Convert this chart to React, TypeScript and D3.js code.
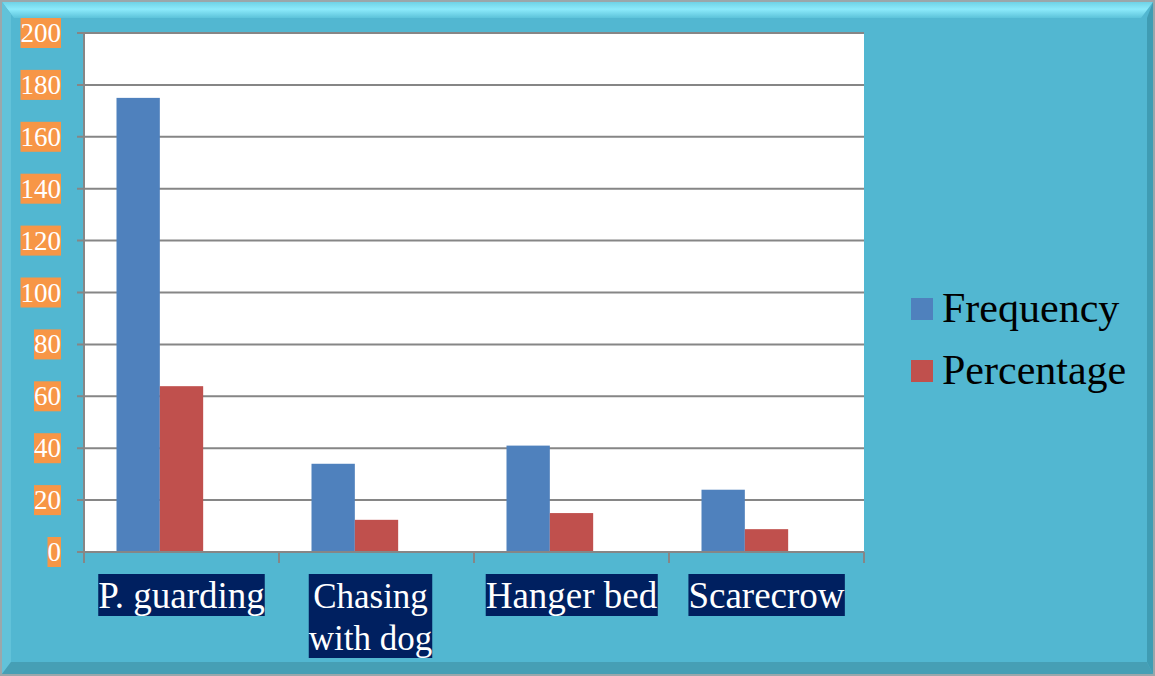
import React, { useEffect, useRef } from 'react';
import * as d3 from 'd3';

const categories = ['P. guarding', 'Chasing with dog', 'Hanger bed', 'Scarecrow'];
const categoryLines = [['P. guarding'], ['Chasing', 'with dog'], ['Hanger bed'], ['Scarecrow']];
const series = ['Frequency', 'Percentage'];
const frequency = [175, 34, 41, 24];
const percentage = [63.9, 12.4, 15.0, 8.8];
const yTicks = [0, 20, 40, 60, 80, 100, 120, 140, 160, 180, 200];

const W = 1155;
const H = 676;
const PLOT = { left: 84, right: 864, top: 33, bottom: 552 };
const COLORS = ['#4F81BD', '#C0504D'];
const FONT = '"Liberation Serif", "Times New Roman", serif';

const App: React.FC = () => {
  const svgRef = useRef<SVGSVGElement>(null);

  useEffect(() => {
    const svg = d3.select(svgRef.current);
    svg.selectAll('*').remove();

    const defs = svg.append('defs');
    const topGrad = defs.append('linearGradient').attr('id', 'topBevel').attr('x1', 0).attr('y1', 0).attr('x2', 0).attr('y2', 1);
    topGrad.append('stop').attr('offset', '0%').attr('stop-color', '#6fd2e6');
    topGrad.append('stop').attr('offset', '45%').attr('stop-color', '#8ceafb');
    topGrad.append('stop').attr('offset', '100%').attr('stop-color', '#5cc3da');

    // frame
    svg.append('rect').attr('width', W).attr('height', H).attr('fill', '#9aa7ab');
    const o = 2, b = 12;
    const face = '#52B7D1';
    svg.append('rect').attr('x', o).attr('y', o).attr('width', W - 2 * o).attr('height', H - 2 * o).attr('fill', face);
    svg.append('polygon')
      .attr('points', `${o},${o} ${W - o},${o} ${W - o - b},${o + b + 4} ${o + b},${o + b + 4}`)
      .attr('fill', 'url(#topBevel)');
    svg.append('polygon')
      .attr('points', `${o},${o} ${o + 9},${o + b} ${o + 9},${H - o - b} ${o},${H - o}`)
      .attr('fill', '#62c2d9');
    svg.append('polygon')
      .attr('points', `${W - o},${o} ${W - o},${H - o} ${W - o - 6},${H - o - b} ${W - o - 6},${o + b + 4}`)
      .attr('fill', '#3f9cb3');
    svg.append('polygon')
      .attr('points', `${o},${H - o} ${W - o},${H - o} ${W - o - 6},${H - o - b} ${o + 9},${H - o - b}`)
      .attr('fill', '#469fb5');

    // scales
    const x0 = d3.scaleBand<string>().domain(categories).range([PLOT.left, PLOT.right]).padding(0);
    const x1 = d3.scaleBand<string>().domain([...series, 'blank']).range([0, x0.bandwidth()]).paddingInner(0).paddingOuter(0.75);
    const y = d3.scaleLinear().domain([0, 200]).range([PLOT.bottom, PLOT.top]);

    svg.append('rect')
      .attr('x', PLOT.left).attr('y', PLOT.top)
      .attr('width', PLOT.right - PLOT.left).attr('height', PLOT.bottom - PLOT.top)
      .attr('fill', '#fff');

    // gridlines + y ticks
    const grid = svg.append('g');
    yTicks.forEach(t => {
      grid.append('line')
        .attr('x1', PLOT.left - 7).attr('x2', PLOT.right)
        .attr('y1', y(t)).attr('y2', y(t))
        .attr('stroke', '#868686').attr('stroke-width', 2);
    });

    // bars
    const values = [frequency, percentage];
    series.forEach((s, si) => {
      svg.append('g').selectAll('rect')
        .data(categories)
        .join('rect')
        .attr('x', (c) => (x0(c) ?? 0) + (x1(s) ?? 0))
        .attr('y', (_, i) => y(values[si][i]))
        .attr('width', x1.bandwidth())
        .attr('height', (_, i) => y(0) - y(values[si][i]))
        .attr('fill', COLORS[si]);
    });

    // axes lines
    svg.append('line').attr('x1', PLOT.left).attr('x2', PLOT.left).attr('y1', PLOT.top).attr('y2', PLOT.bottom + 11)
      .attr('stroke', '#868686').attr('stroke-width', 2);
    svg.append('line').attr('x1', PLOT.left).attr('x2', PLOT.right).attr('y1', PLOT.bottom).attr('y2', PLOT.bottom)
      .attr('stroke', '#868686').attr('stroke-width', 2);
    [...categories.map(c => x0(c) ?? 0), PLOT.right].forEach(xv => {
      svg.append('line').attr('x1', xv).attr('x2', xv).attr('y1', PLOT.bottom).attr('y2', PLOT.bottom + 11)
        .attr('stroke', '#868686').attr('stroke-width', 2);
    });

    // y labels with orange boxes
    yTicks.forEach(t => {
      const g = svg.append('g');
      const txt = g.append('text')
        .attr('x', 61).attr('y', y(t) + 9)
        .attr('text-anchor', 'end')
        .attr('font-family', FONT).attr('font-size', 27)
        .attr('fill', '#fff')
        .text(String(t));
      const bb = (txt.node() as SVGTextElement).getBBox();
      g.insert('rect', 'text')
        .attr('x', bb.x).attr('y', y(t) - 15)
        .attr('width', bb.width).attr('height', 30)
        .attr('fill', '#F79646');
    });

    // x labels with navy boxes
    categories.forEach((c, i) => {
      const cx = (x0(c) ?? 0) + x0.bandwidth() / 2;
      const g = svg.append('g');
      const txt = g.append('text')
        .attr('text-anchor', 'middle')
        .attr('font-family', FONT).attr('font-size', i === 1 ? 35 : 37)
        .attr('fill', '#fff');
      categoryLines[i].forEach((line, li) => {
        txt.append('tspan').attr('x', cx - (i === 1 ? 6 : 0)).attr('y', 608 + li * 42).text(line);
      });
      const bb = (txt.node() as SVGTextElement).getBBox();
      g.insert('rect', 'text')
        .attr('x', bb.x).attr('y', 574)
        .attr('width', bb.width).attr('height', 42 * categoryLines[i].length)
        .attr('fill', '#002060');
    });

    // legend
    series.forEach((s, i) => {
      const ly = 298 + i * 62;
      svg.append('rect').attr('x', 911).attr('y', ly).attr('width', 22).attr('height', 22).attr('fill', COLORS[i]);
      svg.append('text')
        .attr('x', 942).attr('y', ly + 24)
        .attr('font-family', FONT).attr('font-size', 42)
        .attr('fill', '#000')
        .text(s);
    });
  }, []);

  return (
    <svg
      ref={svgRef}
      width={W}
      height={H}
      style={{ position: 'absolute', left: 0, top: 0, display: 'block' }}
    />
  );
};

export default App;
